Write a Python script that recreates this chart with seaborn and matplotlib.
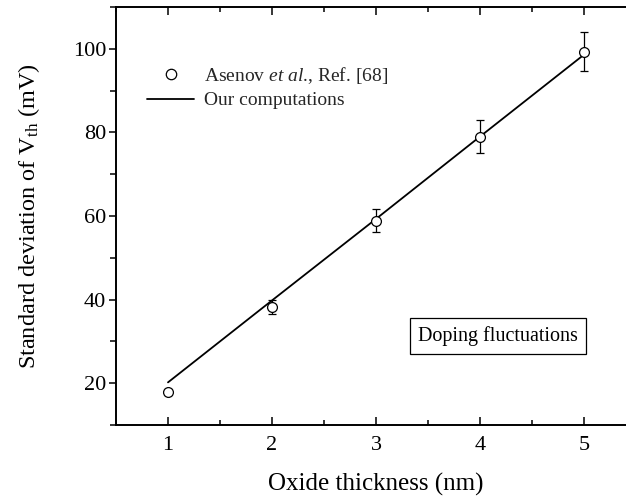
import matplotlib
matplotlib.use("Agg")
import matplotlib.pyplot as plt
from matplotlib.ticker import MultipleLocator
from matplotlib.lines import Line2D
import seaborn as sns
import pandas as pd

# Oxide thickness (nm)
thickness = [1, 2, 3, 4, 5]
# Measured sigma Vth (mV) with error bars
asenov_sigma = [17.9, 38.2, 58.9, 79.0, 99.3]
asenov_err = [0.8, 1.7, 2.8, 3.9, 4.7]
# Computed sigma Vth (mV)
computed_sigma = [20.2, 39.8, 59.3, 79.0, 98.6]

sns.set_theme(style="ticks")
plt.rcParams["font.family"] = ["Liberation Serif", "DejaVu Serif"]
plt.rcParams["mathtext.fontset"] = "custom"
plt.rcParams["mathtext.rm"] = "Liberation Serif"
plt.rcParams["mathtext.it"] = "Liberation Serif:italic"

df_meas = pd.DataFrame({"t": thickness, "s": asenov_sigma, "e": asenov_err})
df_comp = pd.DataFrame({"t": thickness, "s": computed_sigma})

fig = plt.figure(figsize=(6.26, 5.04), dpi=100)
ax = fig.add_axes([116 / 626, 79 / 504, 520 / 626, 418 / 504])

sns.lineplot(data=df_comp, x="t", y="s", color="black", lw=1.3, ax=ax)
ax.errorbar(df_meas["t"], df_meas["s"], yerr=df_meas["e"], fmt="none",
            ecolor="black", elinewidth=0.9, capsize=3, capthick=0.9, zorder=3)
sns.scatterplot(data=df_meas, x="t", y="s", marker="o", s=50,
                facecolor="white", edgecolor="black", linewidth=0.9,
                ax=ax, zorder=4)

ax.set_xlim(0.5, 5.5)
ax.set_ylim(10, 110)
ax.xaxis.set_major_locator(MultipleLocator(1))
ax.xaxis.set_minor_locator(MultipleLocator(0.5))
ax.yaxis.set_major_locator(MultipleLocator(20))
ax.yaxis.set_minor_locator(MultipleLocator(10))
ax.set_yticks([20, 40, 60, 80, 100])

for sp in ax.spines.values():
    sp.set_linewidth(1.4)
    sp.set_color("black")
    sp.set_visible(True)

ax.tick_params(axis="x", which="both", direction="in", top=True, bottom=True,
               labelsize=16, pad=8, colors="black", width=1.1)
ax.tick_params(axis="x", which="major", length=6)
ax.tick_params(axis="x", which="minor", length=3.5)
ax.tick_params(axis="y", which="both", direction="out", left=True,
               labelsize=16, pad=2, colors="black", width=1.1)
ax.tick_params(axis="y", which="major", length=5)
ax.tick_params(axis="y", which="minor", length=4)

ax.set_xlabel("Oxide thickness (nm)", fontsize=18, color="black", labelpad=13)
ax.set_ylabel(r"Standard deviation of V$_{\rm th}$ (mV)", fontsize=17.5,
              color="black", labelpad=22)

handles = [
    Line2D([], [], ls="none", marker="o", markersize=7.5, markerfacecolor="white",
           markeredgecolor="black", markeredgewidth=0.9),
    Line2D([], [], color="black", lw=1.3),
]
labels = [r"Asenov $\mathit{et}$ $\mathit{al}$., Ref. [68]", "Our computations"]
ax.legend(handles, labels, loc="upper left", bbox_to_anchor=(0.045, 0.88),
          frameon=False, fontsize=14, handlelength=2.4, handletextpad=0.5,
          labelspacing=0.3, borderaxespad=0)

ax.text(4.17, 31.2, "Doping fluctuations", fontsize=14.5, ha="center",
        va="center", color="black",
        bbox=dict(boxstyle="square,pad=0.4", fc="white", ec="black", lw=0.9))

fig.savefig("out.png", dpi=100)
